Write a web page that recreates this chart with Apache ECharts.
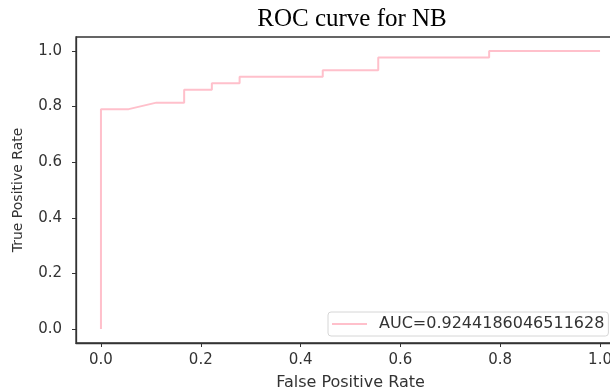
<!DOCTYPE html>
<html>
<head>
<meta charset="utf-8">
<script src="https://cdn.jsdelivr.net/npm/echarts@6/dist/echarts.min.js"></script>
<style>
  html, body { margin: 0; padding: 0; background: #fff; }
  #roc { width: 610px; height: 387px; }
</style>
</head>
<body>
<div id="roc"></div>
<script>
// ROC curve data (steps)
var fpr = [0, 0, 0.0556, 0.1111, 0.1667, 0.1667, 0.2222, 0.2222, 0.2778, 0.2778, 0.4444, 0.4444, 0.5556, 0.5556, 0.7778, 0.7778, 1];
var tpr = [0, 0.7907, 0.7907, 0.814, 0.814, 0.8605, 0.8605, 0.8837, 0.8837, 0.907, 0.907, 0.9302, 0.9302, 0.9767, 0.9767, 1, 1];
var tickValues = [0, 0.2, 0.4, 0.6, 0.8, 1.0];
var curveName = 'AUC=0.9244186046511628';

var rocChart = echarts.init(document.getElementById('roc'));

var points = [];
for (var i = 0; i < fpr.length; i++) {
    points.push([fpr[i], tpr[i]]);
}

var sans = '"DejaVu Sans", sans-serif';

function axisCommon(name, nameSize) {
    return {
        type: 'value',
        min: -0.05,
        max: 1.05,
        name: name,
        nameLocation: 'middle',
        nameTextStyle: { fontFamily: sans, fontSize: nameSize, color: '#333' },
        axisLine: { show: true, onZero: false, lineStyle: { color: '#333', width: 1.3 } },
        axisTick: { show: true, inside: false, length: 4, customValues: tickValues, lineStyle: { color: '#333' } },
        axisLabel: {
            customValues: tickValues,
            fontFamily: sans, fontSize: 15, color: '#333',
            formatter: function (v) { return v.toFixed(1); }
        },
        splitLine: { show: false }
    };
}

var xAxis = axisCommon('False Positive Rate', 16);
xAxis.nameGap = 32;
xAxis.axisLabel.margin = 10;
var yAxis = axisCommon('True Positive Rate', 14);
yAxis.nameGap = 51;
yAxis.axisLabel.margin = 14;

rocChart.setOption({
    animation: false,
    title: {
        text: 'ROC curve for NB',
        left: 347,
        textAlign: 'center',
        top: 2,
        textStyle: { fontFamily: 'Liberation Serif', fontSize: 25, fontWeight: 'normal', color: '#000' }
    },
    grid: {
        left: 76, top: 37, width: 549, height: 306,
        containLabel: false,
        outerBoundsMode: 'none',
        show: true, borderColor: '#333', borderWidth: 1.3
    },
    legend: {
        data: [{ name: curveName, icon: 'rect' }],
        left: 328, top: 312,
        orient: 'vertical',
        itemWidth: 35, itemHeight: 2,
        padding: [4, 4, 4, 4],
        borderColor: '#d6d6d6', borderWidth: 1, borderRadius: 3,
        backgroundColor: '#fff',
        textStyle: { fontFamily: sans, fontSize: 16, color: '#333', padding: [0, 0, 0, 7] }
    },
    xAxis: xAxis,
    yAxis: yAxis,
    series: [{
        name: curveName,
        type: 'line',
        data: points,
        showSymbol: false,
        symbol: 'none',
        lineStyle: { color: 'pink', width: 2 },
        itemStyle: { color: 'pink' }
    }]
});
</script>
</body>
</html>
